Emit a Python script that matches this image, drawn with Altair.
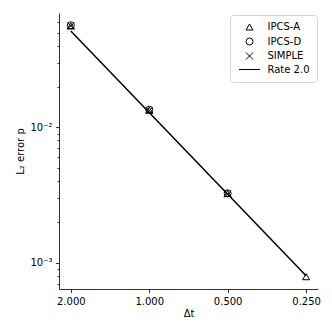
import altair as alt
import pandas as pd

series_names = ["IPCS-A", "IPCS-D", "SIMPLE", "Rate 2.0"]
series_shapes = ["triangle-up", "circle", "M-1,-1L1,1M-1,1L1,-1", "M-3,0L3,0"]

ipcs_a_dt = [2.0, 1.0, 0.5, 0.25]
ipcs_a_err = [0.0560, 0.0134, 0.00325, 0.00079]
ipcs_d_dt = [2.0, 1.0, 0.5]
ipcs_d_err = [0.0566, 0.0135, 0.00326]
simple_dt = [2.0, 1.0, 0.5]
simple_err = [0.0560, 0.0133, 0.00322]
rate_dt = [2.0, 0.25]
rate_err = [0.0514, 0.000803]

x_ticks = [2.0, 1.0, 0.5, 0.25]
x_domain = [0.225, 2.22]
y_domain = [0.000641, 0.0698]
y_ticks = [0.0007, 0.0008, 0.0009, 0.001, 0.002, 0.003, 0.004, 0.005, 0.006,
           0.007, 0.008, 0.009, 0.01, 0.02, 0.03, 0.04, 0.05, 0.06]

rows = []
for name, dts, errs in [("IPCS-A", ipcs_a_dt, ipcs_a_err),
                        ("IPCS-D", ipcs_d_dt, ipcs_d_err),
                        ("SIMPLE", simple_dt, simple_err)]:
    for d, e in zip(dts, errs):
        rows.append({"series": name, "dt": d, "err": e})
df_pts = pd.DataFrame(rows)
df_rate = pd.DataFrame({"dt": rate_dt, "err": rate_err, "series": "Rate 2.0"})

FONT = "DejaVu Sans"

xscale = alt.Scale(type="log", domain=x_domain, reverse=True, nice=False)
yscale = alt.Scale(type="log", domain=y_domain, nice=False)

xaxis = alt.Axis(values=x_ticks, format=".3f", grid=False, tickSize=3.5,
                 tickColor="black", tickWidth=0.8, domainColor="black",
                 domainWidth=0.8, labelPadding=4, labelFontSize=10,
                 labelColor="black", labelFont=FONT, titleFont=FONT,
                 titleFontSize=10, titleFontWeight="normal", titleColor="black",
                 titlePadding=2, labelFlush=False, labelOverlap=False)
yaxis = alt.Axis(values=y_ticks, grid=False,
                 tickSize={"condition": {"test": "datum.value == 0.01 || datum.value == 0.001", "value": 3.5}, "value": 2},
                 labelExpr="datum.value == 0.01 ? '10⁻²' : datum.value == 0.001 ? '10⁻³' : ''",
                 tickColor="black", tickWidth=0.8, domainColor="black",
                 domainWidth=0.8, labelPadding=3.5, labelFontSize=10,
                 labelColor="black", labelFont=FONT, titleFont=FONT,
                 titleFontSize=10, titleFontWeight="normal", titleColor="black",
                 titlePadding=4, labelOverlap=False, labelFlush=False)

points = alt.Chart(df_pts).mark_point(filled=False, color="black", strokeWidth=1,
                                      size=49, opacity=1).encode(
    x=alt.X("dt:Q", scale=xscale, axis=xaxis, title="Δt"),
    y=alt.Y("err:Q", scale=yscale, axis=yaxis, title="L₂ error p"),
    shape=alt.Shape("series:N",
                    scale=alt.Scale(domain=series_names, range=series_shapes),
                    legend=alt.Legend(title=None, orient="none",
                                      legendX=171, legendY=2,
                                      fillColor="white", strokeColor="#d5d5d5",
                                      cornerRadius=3, padding=7,
                                      labelFont=FONT, labelFontSize=10,
                                      labelColor="black", labelOffset=13,
                                      symbolOffset=7.5,
                                      rowPadding=2.5, symbolStrokeColor="black",
                                      symbolStrokeWidth=1, symbolSize=49)),
)

line = alt.Chart(df_rate).mark_line(color="black", strokeWidth=1.5).encode(
    x=alt.X("dt:Q", scale=xscale, axis=xaxis, title="Δt"),
    y=alt.Y("err:Q", scale=yscale, axis=yaxis, title="L₂ error p"),
)

chart = alt.layer(points, line).properties(
    width=259, height=276,
    autosize=alt.AutoSizeParams(type="none"),
    padding={"left": 51, "top": 5, "right": 6, "bottom": 30},
    background="white",
).configure_view(stroke=None)

chart.save("out.html", embed_options={"renderer": "svg", "actions": False})
